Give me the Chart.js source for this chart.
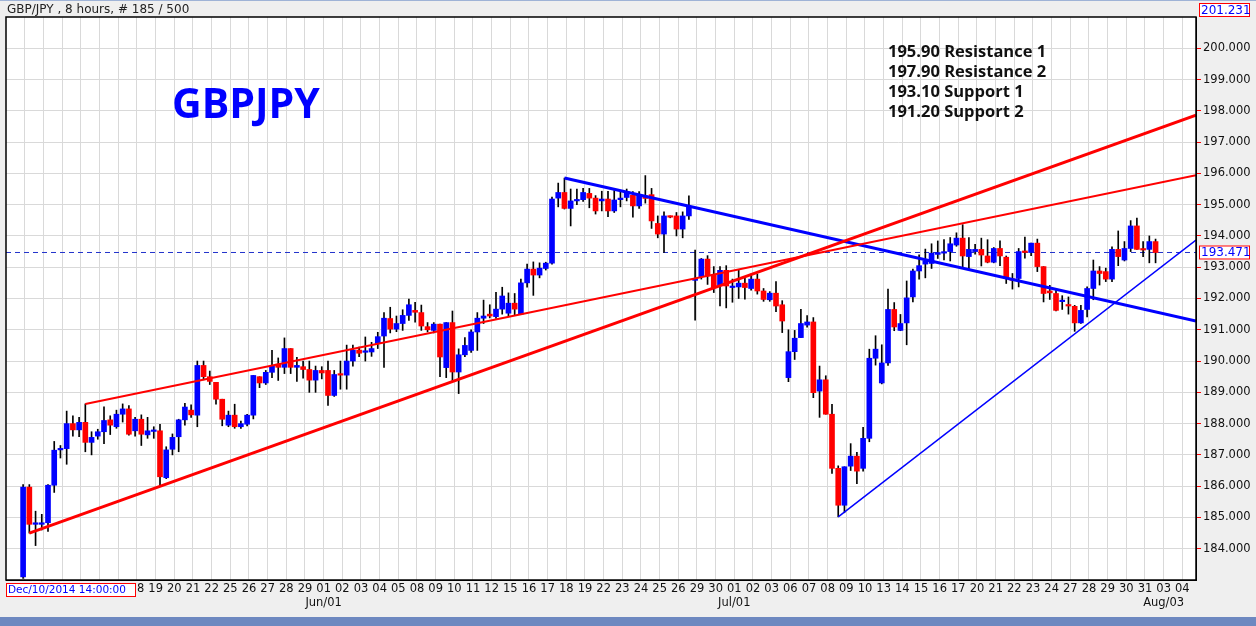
<!DOCTYPE html>
<html>
<head>
<meta charset="utf-8">
<script src="https://cdn.jsdelivr.net/npm/chart.js@4"></script>
<style>
  html, body { margin: 0; padding: 0; background: #efefef; }
  #wrap { width: 1256px; height: 626px; }
</style>
</head>
<body>
<div id="wrap"><canvas id="myChart" width="1256" height="626"></canvas></div>
<script>
// GBP/JPY 8h candles
const opens = [183.1,185.97,184.78,184.78,184.83,186.03,187.16,187.2,188.0,187.8,188.04,187.4,187.6,187.74,188.12,187.9,188.3,188.47,187.77,188.14,187.64,187.75,187.77,186.27,187.18,187.58,188.12,188.43,188.27,189.86,189.5,189.32,188.78,187.95,188.27,187.9,187.98,188.27,189.5,189.3,189.64,189.9,189.8,190.4,189.8,189.82,189.73,189.39,189.7,189.7,188.9,189.57,189.55,190.0,190.35,190.28,190.29,190.56,190.8,191.36,191.02,191.2,191.46,191.62,191.55,191.1,190.98,191.18,189.79,191.23,189.65,190.2,190.34,190.93,191.37,191.5,191.42,191.66,191.53,191.85,191.5,192.5,192.94,192.75,192.96,193.13,195.21,195.39,194.88,195.12,195.16,195.36,195.21,195.12,195.18,194.8,195.16,195.23,195.3,194.96,195.28,195.32,194.4,194.06,194.62,194.64,194.22,194.64,192.58,192.7,193.26,192.75,192.42,192.9,192.35,192.37,192.49,192.32,192.62,192.24,191.96,192.17,191.8,189.47,190.3,190.75,191.15,191.25,189.04,189.4,188.3,186.57,185.39,186.64,186.96,186.57,187.53,190.09,189.3,189.94,191.65,190.98,191.22,192.05,192.88,193.1,193.12,193.41,193.45,193.5,193.71,193.93,193.34,193.5,193.57,193.36,193.16,193.6,193.32,192.62,192.64,193.52,193.47,193.77,193.02,192.24,192.16,191.9,191.8,191.75,191.22,191.65,192.32,192.88,192.86,192.62,193.57,193.23,193.6,194.32,193.58,193.57,193.82];
const highs = [186.05,186.05,185.2,185.1,186.05,187.43,187.3,188.4,188.25,188.2,188.63,187.74,187.82,188.54,188.25,188.43,188.63,188.58,188.2,188.28,188.2,187.9,187.98,187.26,187.67,188.14,188.65,188.6,190.0,190.0,189.68,189.32,188.78,188.4,188.62,188.08,188.3,189.54,189.5,189.7,190.34,190.1,190.74,190.4,190.12,190.0,190.0,189.84,189.82,190.0,189.7,190.0,190.51,190.51,190.45,190.77,190.6,190.92,191.55,191.72,191.44,191.64,191.98,191.88,191.79,191.23,191.23,191.18,191.23,191.6,190.39,190.75,191.0,191.55,191.95,191.8,192.2,192.36,192.18,192.16,192.62,193.1,193.17,193.14,193.16,195.24,195.69,195.85,195.5,195.5,195.52,195.52,195.29,195.43,195.43,195.45,195.43,195.5,195.42,195.42,195.93,195.52,194.64,194.77,194.64,194.75,194.77,195.28,193.55,193.28,193.37,193.02,193.02,193.05,192.62,192.9,192.68,192.78,192.78,192.32,192.22,192.54,191.93,191.0,190.98,191.65,191.45,191.39,189.84,189.53,188.62,186.65,186.62,187.36,187.08,187.88,190.38,190.81,190.52,192.3,191.87,191.49,192.56,192.94,193.4,193.58,193.75,193.84,193.88,193.95,194.1,194.36,193.95,193.73,193.93,193.88,193.63,193.84,193.36,192.8,193.6,193.96,193.77,193.9,193.02,192.42,192.27,192.09,192.05,191.78,191.78,192.37,193.23,193.02,192.97,193.65,194.16,193.82,194.49,194.57,193.82,194.0,193.9];
const lows = [183.05,184.5,184.1,184.6,184.55,185.8,186.9,186.7,187.6,187.58,187.1,187.0,187.5,187.36,187.65,187.85,188.05,187.63,187.6,187.3,187.53,187.53,186.0,186.24,187.0,187.1,187.95,188.2,187.9,189.4,189.25,188.62,187.93,187.9,187.85,187.85,187.93,188.15,189.15,189.25,189.47,189.38,189.6,189.6,189.35,189.45,189.0,189.0,189.43,188.58,188.87,189.1,189.1,189.84,190.14,190.0,190.15,190.4,189.8,190.9,190.94,190.98,191.3,191.24,190.98,190.93,190.9,189.5,189.47,189.36,188.96,190.14,190.28,190.34,191.2,191.38,191.36,191.5,191.44,191.47,191.5,192.36,192.1,192.66,192.91,193.1,194.93,194.86,194.32,195.0,195.1,194.9,194.7,194.8,194.62,194.75,194.93,195.12,194.6,194.88,195.05,194.24,193.94,193.47,194.58,194.0,193.94,194.53,191.31,192.62,192.45,192.19,191.76,191.7,191.88,192.0,191.98,192.27,192.14,191.91,191.91,191.58,190.91,189.34,190.05,190.75,191.08,188.83,188.2,188.3,186.41,185.02,185.15,186.5,186.08,186.48,187.42,189.87,189.27,189.86,190.97,190.97,190.52,191.89,192.62,192.66,192.96,193.28,193.23,193.2,193.67,192.97,192.91,193.42,193.04,193.14,193.14,193.05,192.48,192.3,192.37,193.29,193.37,192.86,191.89,191.97,191.6,191.65,191.5,190.95,191.2,191.41,191.96,192.43,192.54,192.54,193.05,193.2,193.5,193.57,193.34,193.14,193.14];
const closes = [185.97,184.78,184.83,184.83,186.03,187.15,187.2,188.0,187.8,188.04,187.4,187.56,187.74,188.1,187.95,188.3,188.47,187.66,188.14,187.66,187.77,187.76,186.3,187.16,187.56,188.12,188.53,188.28,189.86,189.5,189.35,188.78,188.14,188.27,187.9,188.0,188.27,189.54,189.3,189.64,189.84,189.8,190.4,189.8,189.86,189.73,189.39,189.7,189.62,188.9,189.57,189.55,190.0,190.35,190.25,190.29,190.4,190.78,191.37,191.02,191.2,191.46,191.8,191.56,191.12,191.0,191.18,190.13,191.23,189.65,190.2,190.5,190.93,191.37,191.44,191.44,191.66,192.08,191.85,191.66,192.5,192.94,192.75,192.97,193.13,195.18,195.39,194.88,195.12,195.13,195.39,195.21,194.8,195.18,194.8,195.15,195.21,195.42,194.96,195.3,195.2,194.48,194.06,194.64,194.6,194.22,194.64,194.93,192.62,193.26,192.72,192.35,192.9,192.4,192.38,192.49,192.35,192.62,192.24,191.97,192.17,191.76,191.28,190.3,190.73,191.2,191.25,188.99,189.4,188.3,186.57,185.39,186.62,186.96,186.48,187.53,190.09,190.38,189.94,191.65,191.09,191.2,192.02,192.88,193.05,193.2,193.45,193.47,193.48,193.75,193.93,193.36,193.57,193.57,193.39,193.16,193.6,193.36,192.64,192.58,193.5,193.47,193.77,193.02,192.16,192.18,191.62,191.93,191.76,191.22,191.62,192.32,192.88,192.8,192.62,193.57,193.34,193.6,194.32,193.57,193.55,193.82,193.47];

const days = ["08","11","12","13","14","15","18","19","20","21","22","25","26","27","28","29",
  "01","02","03","04","05","08","09","10","11","12","15","16","17","18","19","22","23","24","25","26","29","30",
  "01","02","03","06","07","08","09","10","13","14","15","16","17","20","21","22","23","24","27","28","29","30","31",
  "03","04"];
const months = { 16: "Jun/01", 38: "Jul/01", 61: "Aug/03" };
const yTicks = [184,185,186,187,188,189,190,191,192,193,194,195,196,197,198,199,200];

// trend lines: [x1, y1, x2, y2] in candle index / price
const redLow = [1, 184.5, 188.5, 197.86];
const redHigh = [10, 188.63, 188.5, 195.94];
const blueDown = [87, 195.85, 188.5, 191.28];
const blueUp = [131, 185.02, 188.5, 193.87];
const lastPrice = 193.471;
const notes = ["195.90 Resistance 1", "197.90 Resistance 2", "193.10 Support 1", "191.20 Support 2"];

const BLUE = "#0000ff", RED = "#ff0000";
const X_MIN = -2.75, X_MAX = 188.5;
const idx = closes.map((c, i) => i);
const candleColor = (i) => (closes[i] >= opens[i] ? BLUE : RED);

function seg(s) {
  return [{ x: s[0], y: s[1] }, { x: s[2], y: s[3] }];
}
function lineDs(s, color, w) {
  return { type: "line", data: seg(s), borderColor: color, borderWidth: w, pointRadius: 0, order: 0 };
}

const deco = {
  id: "deco",
  beforeDraw(chart) {
    const c = chart.ctx, a = chart.chartArea;
    c.save();
    c.fillStyle = "#efefef";
    c.fillRect(0, 0, chart.width, chart.height);
    c.fillStyle = "#fff";
    c.fillRect(a.left, a.top, a.right - a.left, a.bottom - a.top);
    c.restore();
  },
  afterDraw(chart) {
    const c = chart.ctx, a = chart.chartArea, y = chart.scales.y;
    c.save();
    c.strokeStyle = "#000";
    c.lineWidth = 1.5;
    c.strokeRect(a.left, a.top, a.right - a.left, a.bottom - a.top);
    // header
    c.fillStyle = "#222";
    c.font = "12px 'DejaVu Sans'";
    c.textBaseline = "middle";
    c.fillText("GBP/JPY , 8 hours, # 185 / 500", 7, 10);
    c.fillStyle = "#9fb3d6";
    c.fillRect(0, 0, chart.width, 1);
    // big symbol
    c.fillStyle = BLUE;
    c.font = "bold 41px 'Open Sans'";
    c.textBaseline = "alphabetic";
    c.fillText("GBPJPY", 172, 118);
    // notes
    c.fillStyle = "#111";
    c.font = "bold 16.5px 'Open Sans'";
    notes.forEach((t, i) => c.fillText(t, 888, 57 + i * 20));
    // price boxes
    c.textBaseline = "middle";
    const box = (txt, x, yy, w, fs) => {
      c.font = fs + "px 'DejaVu Sans'";
      c.fillStyle = "#fff";
      c.fillRect(x, yy - 7, w, 14);
      c.strokeStyle = RED;
      c.lineWidth = 1;
      c.strokeRect(x + 0.5, yy - 6.5, w, 13);
      c.fillStyle = BLUE;
      c.fillText(txt, x + 2, yy + 0.5);
    };
    box("193.471", 1199, y.getPixelForValue(lastPrice), 50, 12);
    box("201.231", 1199, 10, 50, 12);
    box("Dec/10/2014 14:00:00", 6, 590, 129, 10.5);
    // bottom strip
    c.fillStyle = "#6d88c0";
    c.fillRect(0, 617, chart.width, 9);
    c.restore();
  }
};

const ctx = document.getElementById("myChart").getContext("2d");
const chart = new Chart(ctx, {
  type: "bar",
  data: {
    datasets: [
      lineDs(redLow, RED, 3),
      lineDs(redHigh, RED, 2),
      lineDs(blueDown, BLUE, 3),
      lineDs(blueUp, BLUE, 1.5),
      {
        type: "line",
        data: [{ x: X_MIN, y: lastPrice }, { x: X_MAX, y: lastPrice }],
        borderColor: "#2233cc",
        borderWidth: 1,
        borderDash: [5, 4],
        pointRadius: 0,
        order: 3,
      },
      {
        data: idx.map((i) => ({ x: i, y: [lows[i], highs[i]] })),
        backgroundColor: "#000",
        barThickness: 1,
        grouped: false,
        order: 2,
      },
      {
        data: idx.map((i) => ({ x: i, y: [opens[i], closes[i]] })),
        backgroundColor: idx.map(candleColor),
        barThickness: 5,
        minBarLength: 1.5,
        grouped: false,
        order: 1,
      },
    ],
  },
  options: {
    responsive: false,
    animation: false,
    plugins: { legend: { display: false }, tooltip: { enabled: false } },
    layout: { padding: { left: 6, top: 17, right: 0, bottom: 0 } },
    scales: {
      x: {
        type: "linear",
        min: X_MIN,
        max: X_MAX,
        offset: false,
        afterBuildTicks: (s) => {
          s.ticks = days.map((d, k) => ({ value: 0.3 + 3 * k }));
        },
        afterFit: (s) => { s.height = 46; },
        ticks: {
          autoSkip: false,
          maxRotation: 0,
          color: "#111",
          font: { family: "DejaVu Sans", size: 11.5 },
          padding: 2,
          callback: (v, i) => (months[i] ? [days[i], months[i]] : days[i]),
        },
        grid: { color: "#d9d9d9", drawTicks: false, offset: false },
        border: { color: "#000" },
      },
      y: {
        position: "right",
        min: 183.0,
        max: 201.0,
        afterBuildTicks: (s) => {
          s.ticks = yTicks.map((v) => ({ value: v }));
        },
        afterFit: (s) => { s.width = 60; },
        ticks: {
          color: "#111",
          font: { family: "DejaVu Sans", size: 11.5 },
          padding: 2,
          callback: (v) => v.toFixed(3),
        },
        grid: { color: "#d9d9d9", tickColor: RED, tickLength: 5 },
        border: { color: "#000" },
      },
    },
  },
  plugins: [deco],
});
</script>
</body>
</html>
